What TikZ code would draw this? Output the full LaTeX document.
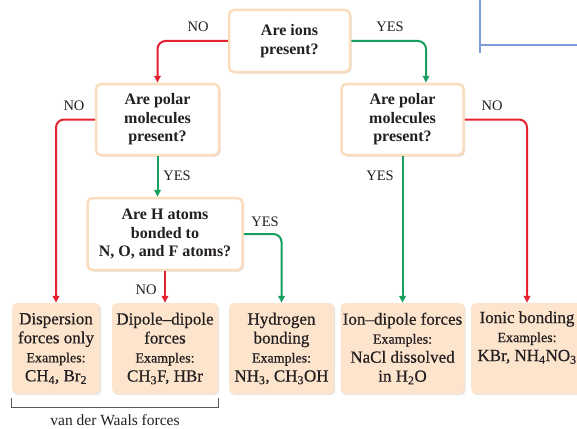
\documentclass[tikz,border=0pt]{standalone}
\usepackage{fontspec}
\setmainfont{Liberation Serif}
\newfontfamily\resultfont[Ligatures=TeX, FakeBold=0.6]{Liberation Serif}
\usetikzlibrary{arrows.meta,shadows}
\definecolor{ink}{HTML}{231F20}
\definecolor{nored}{HTML}{E52330}
\definecolor{yesgreen}{HTML}{17A05D}
\definecolor{peachline}{HTML}{FBDDBE}
\definecolor{peachfill}{HTML}{FDE4CD}
\definecolor{frameblue}{HTML}{7F9ED9}

\begin{document}
\begin{tikzpicture}[
  x=1pt, y=-1pt,
  text=ink,
  question/.style={
    draw=peachline,
    line width=2.5pt,
    fill=white,
    rounded corners=5pt,
    align=center,
    inner sep=0pt,
    minimum height=66pt,
    drop shadow={shadow xshift=1.5pt, shadow yshift=-1.5pt, opacity=0.25},
    font=\fontsize{16}{18.5}\selectfont\bfseries
  },
  result/.style={
    fill=peachfill,
    rounded corners=5pt,
    align=center,
    inner sep=0pt,
    minimum height=91pt,
    drop shadow={shadow xshift=1.2pt, shadow yshift=-1.2pt, opacity=0.2},
    font=\resultfont\fontsize{17}{19}\selectfont
  },
  noarrow/.style={-{Triangle[length=7pt,width=6.5pt]}, line width=2pt, draw=nored, rounded corners=8pt},
  yesarrow/.style={-{Triangle[length=7pt,width=6.5pt]}, line width=2pt, draw=yesgreen, rounded corners=8pt},
  answer/.style={font=\fontsize{14.5}{16}\selectfont, inner sep=0pt},
  bracket/.style={draw=ink!75, line width=0.8pt}
]
\fill[white] (0,0) rectangle (577,428);
\useasboundingbox (0,0) rectangle (577,428);

% Stray frame in the corner
\draw[frameblue, line width=1.5pt] (480,0) -- (480,53);
\draw[frameblue, line width=1.5pt] (480,45) -- (577,45);

% Questions
\node[question, minimum width=121pt, minimum height=62pt] (ions) at (289.5,41) {Are ions\\present?};
\node[question, minimum width=123pt, minimum height=71pt] (polarL) at (157.5,119.5) {Are polar\\molecules\\present?};
\node[question, minimum width=122pt, minimum height=71pt] (polarR) at (402.5,119.5) {Are polar\\molecules\\present?};
\node[question, minimum width=155pt, minimum height=72pt] (hatoms) at (165,234) {Are H atoms\\bonded to\\N, O, and F atoms?};

% Kinds of force
\node[result, minimum width=88pt] (disp) at (56,348.5) {Dispersion\\forces only\\{\fontsize{14}{16}\selectfont Examples:}\\CH\textsubscript{4}, Br\textsubscript{2}};
\node[result, minimum width=106pt] (dipole) at (165,348.5) {Dipole--dipole\\forces\\{\fontsize{14}{16}\selectfont Examples:}\\CH\textsubscript{3}F, HBr};
\node[result, minimum width=105pt] (hbond) at (281.5,348.5) {Hydrogen\\bonding\\{\fontsize{14}{16}\selectfont Examples:}\\NH\textsubscript{3}, CH\textsubscript{3}OH};
\node[result, minimum width=124pt] (iondip) at (402.5,348.5) {Ion--dipole forces\\{\fontsize{14}{16}\selectfont Examples:}\\NaCl dissolved\\in H\textsubscript{2}O};
\node[result, minimum width=112pt] (ionic) at (527,348.5) {Ionic bonding\\{\fontsize{14}{16}\selectfont Examples:}\\KBr, NH\textsubscript{4}NO\textsubscript{3}\\\strut};

% Decisions
\draw[noarrow] (ions.west) -| (polarL.north);
\draw[yesarrow] (ions.east) -| ([xshift=23.5pt]polarR.north);
\draw[noarrow] (polarL.west) -| (disp.north);
\draw[yesarrow] (polarL.south) -- (polarL.south |- hatoms.north);
\draw[noarrow] (polarR.east) -| (ionic.north);
\draw[yesarrow] (polarR.south) -- (iondip.north);
\draw[noarrow] (hatoms.south) -- (dipole.north);
\draw[yesarrow] (hatoms.east) -| (hbond.north);

\node[answer] (noions) at (198,27) {NO};
\node[answer] (yesions) at (390,27) {YES};
\node[answer] (nopolarL) at (74,106) {NO};
\node[answer] (nopolarR) at (492,106) {NO};
\node[answer] (yespolarL) at (177,176) {YES};
\node[answer] (yespolarR) at (380,176) {YES};
\node[answer] (yeshatoms) at (265,222) {YES};
\node[answer] (nohatoms) at (146,290) {NO};

% van der Waals bracket
\draw[bracket] ([yshift=-4pt]disp.south west) -- ++(0,9) -| ([yshift=-4pt]dipole.south east);
\node[font=\fontsize{15.5}{18}\selectfont] (vdw) at (115,420) {van der Waals forces};

\end{tikzpicture}
\end{document}
